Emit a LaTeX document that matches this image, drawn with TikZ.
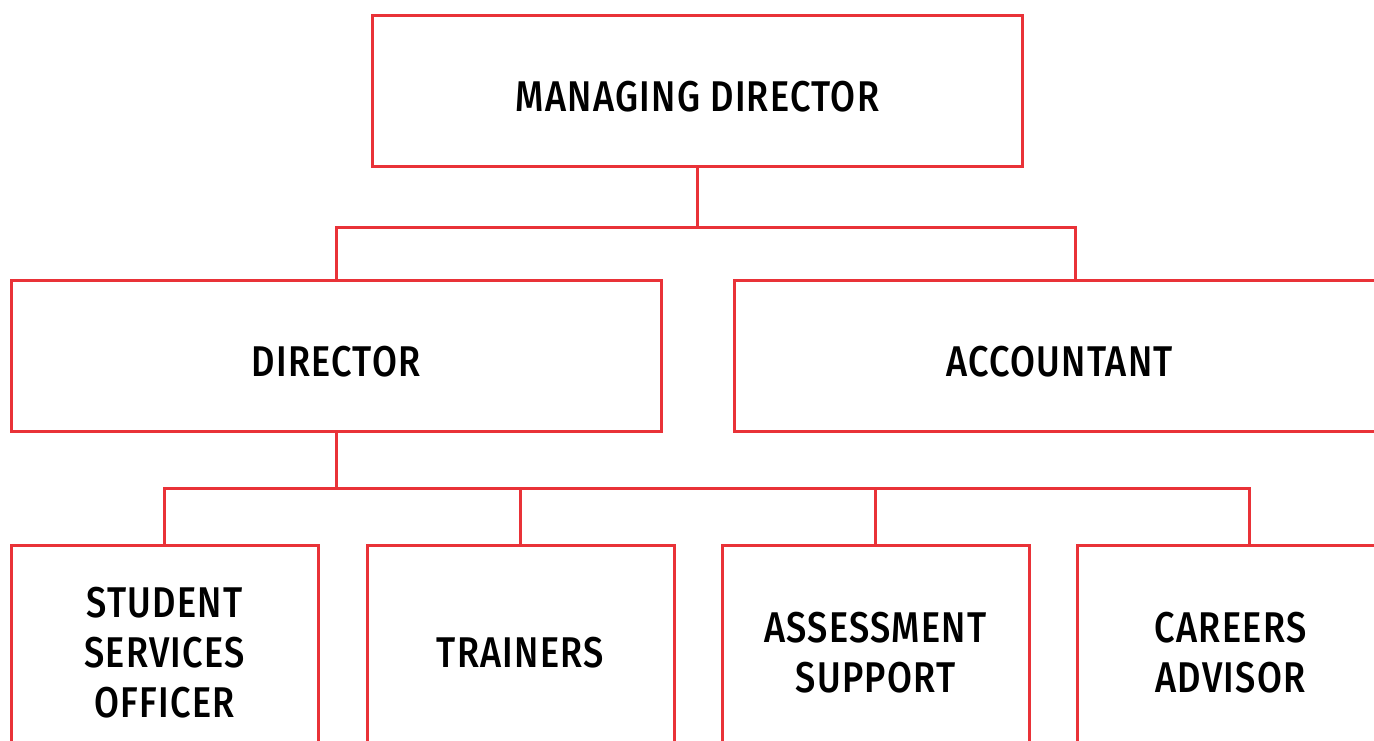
\documentclass[tikz,border=0pt]{standalone}
\usepackage{fontspec}
\setmainfont{Fira Sans}[BoldFont={Fira Sans Medium},BoldFeatures={FakeStretch=0.84,LetterSpace=3}]
\definecolor{boxred}{RGB}{233,50,56}
\begin{document}
\begin{tikzpicture}[x=0.5pt,y=-0.5pt,
  box/.style={draw=boxred,line width=1.5pt,rectangle,inner sep=0pt,fill=white},
  topbox/.style={box,minimum width=325pt,minimum height=75.5pt},
  lowbox/.style={box,minimum width=153.5pt,minimum height=115pt},
  lbl/.style={font=\bfseries\fontsize{21.5}{25}\selectfont,align=center,inner sep=0pt,text=black},
  conn/.style={draw=boxred,line width=1.5pt}]
\useasboundingbox (0,0) rectangle (1374,740);
\node[topbox] (md) at (697.5,90.5) {};
\node[topbox] (dir) at (336,355.5) {};
\node[topbox] (acc) at (1059.5,355.5) {};
\node[lowbox] (sso) at (164.5,660) {};
\node[lowbox] (trn) at (520.5,660) {};
\node[lowbox] (ass) at (875.5,660) {};
\node[lowbox] (car) at (1230.5,660) {};
\node[lbl] (tmd) at (697.5,97) {MANAGING DIRECTOR};
\node[lbl] (tdir) at (336,362) {DIRECTOR};
\node[lbl] (tacc) at (1059.5,362) {ACCOUNTANT};
\node[lbl] (tsso) at (164.5,653) {STUDENT\\SERVICES\\OFFICER};
\node[lbl] (ttrn) at (520.5,653) {TRAINERS};
\node[lbl] (tass) at (875.5,653) {ASSESSMENT\\SUPPORT};
\node[lbl] (tcar) at (1230.5,653) {CAREERS\\ADVISOR};
\coordinate (j1) at (697.5,227);
\coordinate (j2) at (336,488);
\coordinate (accin) at ([xshift=7.75pt]acc.north);
\coordinate (carin) at ([xshift=9.25pt]car.north);
\draw[conn] (md.south) -- (j1);
\draw[conn] (dir.north) |- (j1) -| (accin);
\draw[conn] (dir.south) -- (j2);
\draw[conn] (sso.north) |- (j2) -| (carin);
\draw[conn] (trn.north) -- (trn.north |- j2);
\draw[conn] (ass.north) -- (ass.north |- j2);
\end{tikzpicture}
\end{document}
